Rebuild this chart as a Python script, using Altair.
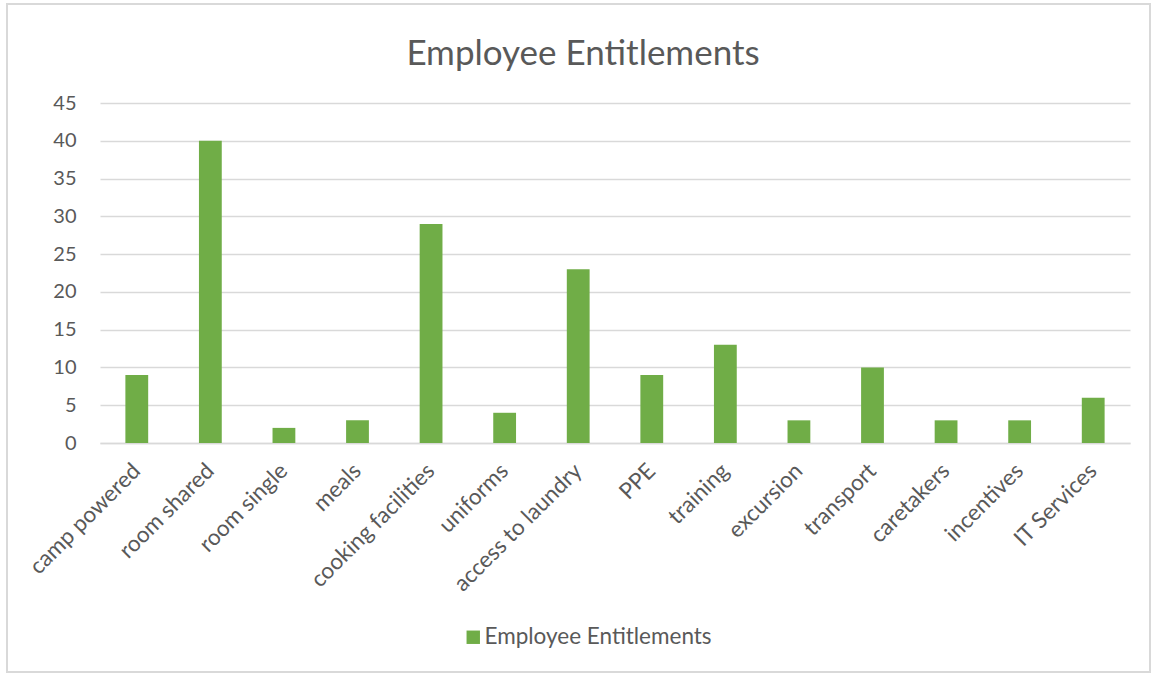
import altair as alt
import pandas as pd

categories = ["camp powered", "room shared", "room single", "meals", "cooking facilities",
              "uniforms", "access to laundry", "PPE", "training", "excursion", "transport",
              "caretakers", "incentives", "IT Services"]
values = [9, 40, 2, 3, 29, 4, 23, 9, 13, 3, 10, 3, 3, 6]
series = "Employee Entitlements"

df = pd.DataFrame({"category": categories, "value": values, "series": [series] * len(values)})

FONT = "Lato"
GREY = "#595959"

bars = alt.Chart(df).mark_bar(color="#70AD47").encode(
    x=alt.X("category:N", sort=categories, title=None,
            scale=alt.Scale(paddingInner=0.69, paddingOuter=0.345),
            axis=alt.Axis(labelAngle=-45, labelAlign="right", labelBaseline="middle",
                          labelFontSize=22.5, labelColor=GREY, labelFont=FONT,
                          ticks=False, domainColor="#D9D9D9", domainWidth=1.3,
                          labelPadding=24, labelOverlap=False, labelLimit=0)),
    y=alt.Y("value:Q", title=None,
            scale=alt.Scale(domain=[0, 45], nice=False),
            axis=alt.Axis(values=list(range(0, 50, 5)), labelFontSize=20, labelColor=GREY,
                          labelFont=FONT, ticks=False, domain=False, gridColor="#D9D9D9",
                          gridWidth=1.3, labelPadding=24)),
    color=alt.Color("series:N", scale=alt.Scale(range=["#70AD47"]),
                    legend=alt.Legend(title=None, orient="none", legendX=362, legendY=523,
                                      symbolType="square", symbolSize=180,
                                      labelFontSize=22.5, labelColor=GREY, labelFont=FONT,
                                      symbolStrokeWidth=0, labelLimit=0, labelOffset=0)),
)

border = alt.Chart(df).mark_rect(fill=None, stroke="#D9D9D9", strokeWidth=1.5).encode(
    x=alt.value(-93), x2=alt.value(1050), y=alt.value(-99), y2=alt.value(569)
)

chart = alt.layer(border, bars).properties(
    width=1030, height=340,
    title=alt.TitleParams("Employee Entitlements", fontSize=35, font=FONT, color=GREY,
                          fontWeight="normal", anchor="middle", baseline="alphabetic",
                          offset=-97, dx=-32),
    autosize=alt.AutoSizeParams(type="none"),
    padding={"left": 100, "top": 103, "right": 25, "bottom": 232},
).configure_view(stroke=None)

chart.save("out.html", embed_options={"renderer": "svg", "actions": False})
